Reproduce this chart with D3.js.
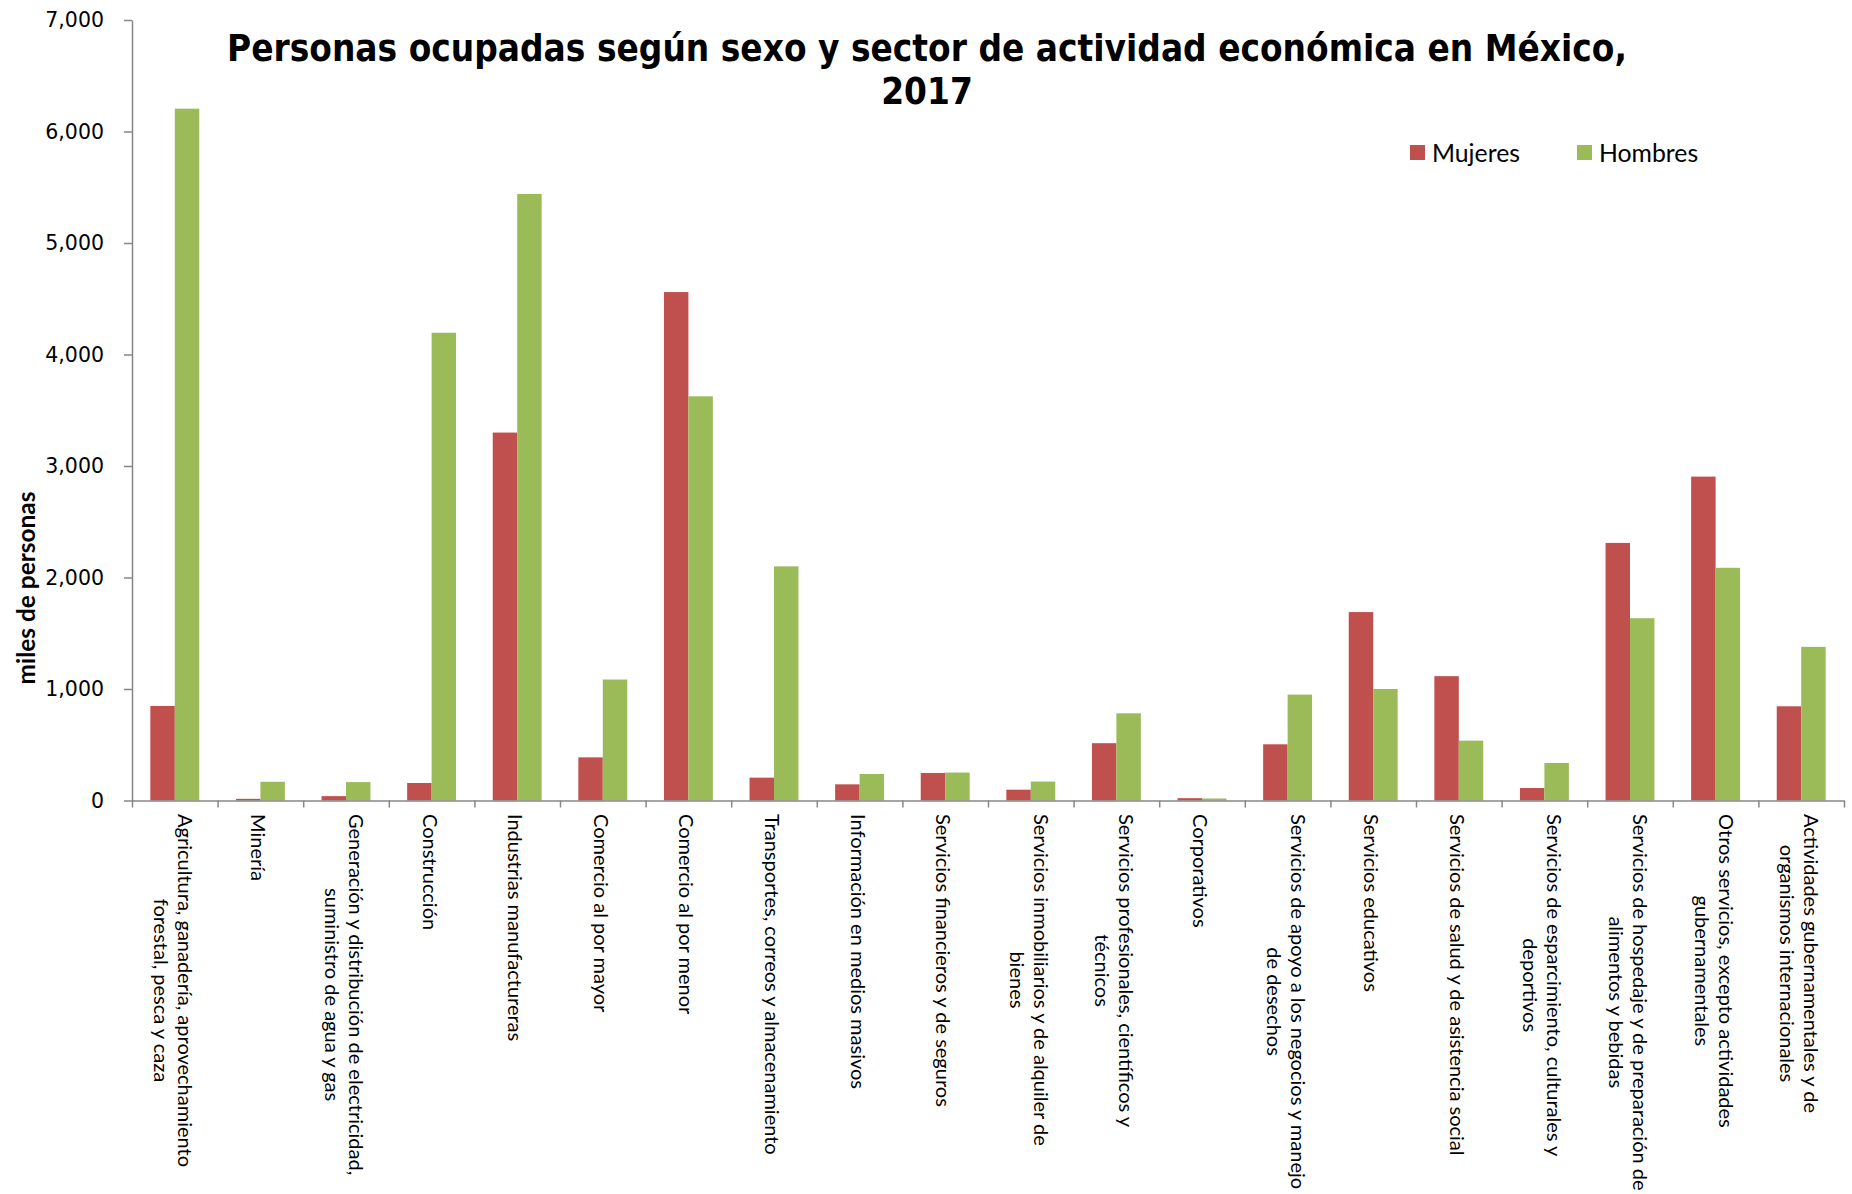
<!DOCTYPE html>
<html lang="es">
<head>
<meta charset="utf-8">
<title>Personas ocupadas según sexo y sector de actividad económica en México, 2017</title>
<script src="https://cdn.jsdelivr.net/npm/d3@7"></script>
<style>
  html, body { margin: 0; padding: 0; background: #ffffff; }
  svg { display: block; }
</style>
</head>
<body>
<div id="chart"></div>
<script>
// Sectores de actividad (saltos de línea tal como se rotulan en el eje)
const categories = [
  "Agricultura, ganadería, aprovechamiento\nforestal, pesca y caza",
  "Minería",
  "Generación y distribución de electricidad,\nsuministro de agua y gas",
  "Construcción",
  "Industrias manufactureras",
  "Comercio al por mayor",
  "Comercio al por menor",
  "Transportes, correos y almacenamiento",
  "Información en medios masivos",
  "Servicios financieros y de seguros",
  "Servicios inmobiliarios y de alquiler de\nbienes",
  "Servicios profesionales, científicos y\ntécnicos",
  "Corporativos",
  "Servicios de apoyo a los negocios y manejo\nde desechos",
  "Servicios educativos",
  "Servicios de salud y de asistencia social",
  "Servicios de esparcimiento, culturales y\ndeportivos",
  "Servicios de hospedaje y de preparación de\nalimentos y bebidas",
  "Otros servicios, excepto actividades\ngubernamentales",
  "Actividades gubernamentales y de\norganismos internacionales"
];

// Miles de personas ocupadas
const mujeres = [848, 15, 39, 157, 3300, 387, 4560, 205, 145, 247, 97, 514, 21, 504, 1690, 1115, 112, 2310, 2905, 845];
const hombres = [6205, 168, 165, 4195, 5440, 1085, 3625, 2100, 238, 251, 170, 782, 18, 950, 1000, 537, 337, 1635, 2087, 1378];

const seriesNames = ["Mujeres", "Hombres"];
const seriesColors = ["#C0504D", "#9BBB59"];
const yTicks = [0, 1000, 2000, 3000, 4000, 5000, 6000, 7000];

const titleLines = ["Personas ocupadas según sexo y sector de actividad económica en México,", "2017"];
const yTitle = "miles de personas";

const W = 1852, H = 1194;
const plot = { left: 132, right: 1844, top: 20, bottom: 800.5 };
const axisColor = "#878787";
const labelFont = "Lato, Carlito, Calibri, 'Open Sans', sans-serif";

const svg = d3.select("#chart").append("svg")
  .attr("width", W).attr("height", H)
  .attr("viewBox", `0 0 ${W} ${H}`);

// Measures a string in a given font so sizes can be tuned to the layout
const probe = svg.append("text").attr("x", -9999).attr("y", -9999);
function textWidth(str, family, size, weight) {
  probe.attr("font-family", family).attr("font-size", size).attr("font-weight", weight || "normal").text(str);
  return probe.node().getComputedTextLength();
}
function fitSize(str, family, weight, target) {
  const w = textWidth(str, family, 100, weight);
  return 100 * target / w;
}

// Scales
const x = d3.scaleBand().domain(d3.range(categories.length)).range([plot.left, plot.right]).paddingInner(0).paddingOuter(0);
const xs = d3.scaleBand().domain(seriesNames).range([0, x.bandwidth()]).paddingInner(0).paddingOuter(0.75);
const y = d3.scaleLinear().domain([0, 7000]).range([plot.bottom, plot.top]);

const rows = categories.map((c, i) => ({ i, values: [mujeres[i], hombres[i]] }));

// Bars
const groups = svg.append("g").attr("class", "bars")
  .selectAll("g").data(rows).join("g")
  .attr("transform", d => `translate(${x(d.i)},0)`);
groups.selectAll("rect")
  .data(d => d.values.map((v, k) => ({ key: seriesNames[k], value: v, color: seriesColors[k] })))
  .join("rect")
  .attr("x", d => xs(d.key))
  .attr("width", xs.bandwidth())
  .attr("y", d => y(d.value))
  .attr("height", d => y(0) - y(d.value))
  .attr("fill", d => d.color);

// Y axis
const yAxis = svg.append("g")
  .attr("transform", `translate(${plot.left},0)`)
  .call(d3.axisLeft(y).tickValues(yTicks).tickFormat(d3.format(",")).tickSize(8).tickSizeOuter(0).tickPadding(20));
yAxis.select(".domain").attr("stroke", axisColor).attr("stroke-width", 1.5);
yAxis.selectAll(".tick line").attr("stroke", axisColor).attr("stroke-width", 1.5);
yAxis.selectAll(".tick text")
  .attr("font-family", "'DejaVu Sans', Verdana, sans-serif")
  .attr("font-size", 20.5)
  .attr("fill", "#000");

// X axis: boundary ticks between categories
const xb = d3.scaleLinear().domain([0, categories.length]).range([plot.left, plot.right]);
const xAxis = svg.append("g")
  .attr("transform", `translate(0,${plot.bottom})`)
  .call(d3.axisBottom(xb).tickValues(d3.range(categories.length + 1)).tickFormat("").tickSize(7).tickSizeOuter(0));
xAxis.select(".domain").attr("stroke", axisColor).attr("stroke-width", 1.5);
xAxis.selectAll(".tick line").attr("stroke", axisColor).attr("stroke-width", 1.5);

// Category labels, rotated to read downward, lines centred on the longest one
const catSize = fitSize("Agricultura, ganadería, aprovechamiento", labelFont, "normal", 353);
const lineH = 24;
const catLabels = svg.append("g").attr("class", "cat-labels")
  .attr("font-family", labelFont).attr("font-size", catSize).attr("fill", "#000");
categories.forEach((c, i) => {
  const lines = c.split("\n");
  const maxLen = d3.max(lines, l => textWidth(l, labelFont, catSize));
  const cx = x(i) + x.bandwidth() / 2;
  const t = catLabels.append("text")
    .attr("transform", `translate(${cx},814) rotate(90)`)
    .attr("text-anchor", "middle")
    .attr("dominant-baseline", "central");
  lines.forEach((l, k) => {
    t.append("tspan")
      .attr("x", maxLen / 2)
      .attr("y", (k - (lines.length - 1) / 2) * lineH + 1)
      .text(l);
  });
});

// Y axis title
const yTitleSize = fitSize(yTitle, labelFont, "bold", 193);
svg.append("text")
  .attr("transform", `translate(25,588) rotate(-90)`)
  .attr("text-anchor", "middle")
  .attr("dominant-baseline", "central")
  .attr("font-family", labelFont)
  .attr("font-weight", "bold")
  .attr("font-size", yTitleSize)
  .text(yTitle);

// Title, two centred lines
const titleFont = "Tahoma, 'DejaVu Sans', Verdana, sans-serif";
const titleSize = 38;
const t1 = textWidth(titleLines[0], titleFont, titleSize, "bold");
const squeeze = 1400 / t1;
const titleG = svg.append("g")
  .attr("font-family", titleFont).attr("font-weight", "bold").attr("font-size", titleSize)
  .attr("text-anchor", "middle").attr("fill", "#000");
titleLines.forEach((l, k) => {
  const w = textWidth(l, titleFont, titleSize, "bold") * squeeze;
  titleG.append("text")
    .attr("x", 927)
    .attr("y", 61 + k * 43)
    .attr("textLength", w)
    .attr("lengthAdjust", "spacingAndGlyphs")
    .text(l);
});

// Legend
const legSize = fitSize("Mujeres", labelFont, "normal", 88);
const legend = svg.append("g").attr("class", "legend")
  .attr("font-family", labelFont).attr("font-size", legSize);
const legX = [1410, 1577];
seriesNames.forEach((name, k) => {
  const g = legend.append("g").attr("transform", `translate(${legX[k]},145)`);
  g.append("rect").attr("width", 15).attr("height", 15).attr("fill", seriesColors[k]);
  g.append("text").attr("x", 22).attr("y", 7.5)
    .attr("dominant-baseline", "central")
    .attr("fill", "#000")
    .text(name);
});

probe.remove();
</script>
</body>
</html>
